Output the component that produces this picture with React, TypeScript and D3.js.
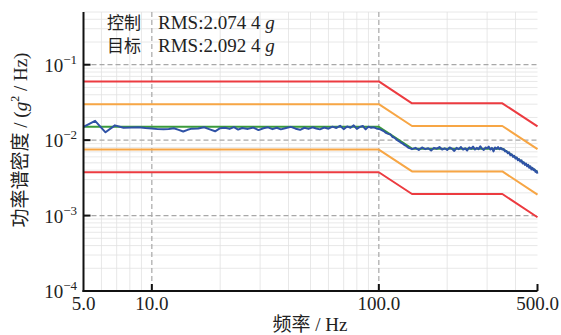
import React from "react";
import * as d3 from "d3";

// profile breakpoints (Hz) and levels (g^2/Hz)
const refFreq = [5, 100, 140, 350, 500];
const refPsd = [0.015, 0.015, 0.0077, 0.0077, 0.0038];
const alarmHi = [0.03, 0.03, 0.0154, 0.0154, 0.0076];
const alarmLo = [0.0075, 0.0075, 0.00385, 0.00385, 0.0019];
const abortHi = [0.06, 0.06, 0.0308, 0.0308, 0.0152];
const abortLo = [0.00375, 0.00375, 0.00193, 0.00193, 0.00095];

// measured control spectrum
const ctrlFreq = [
  5, 5.625, 6.25, 6.875, 7.5, 8.125, 8.75, 9.375, 10, 10.625, 11.25, 11.875, 12.5, 13.125, 13.75, 14.375, 15,
  16, 17, 18, 19, 20, 21, 22, 23, 24, 25, 26.5, 28, 29.5, 31, 32.5, 34, 35.5, 37, 39, 41, 43, 45, 47, 49, 51, 53,
  55, 57.5, 60, 62.5, 65, 67.5, 70, 72.5, 75, 77.5, 80, 82.5, 85, 87.5, 90, 92.5, 95, 97.5,
  100, 102.5, 105, 107.5, 110, 112.5, 115, 117.5, 120, 122.5, 125, 127.5, 130, 132.5, 135, 137.5, 140,
  145, 150, 155, 160, 165, 170, 175, 180, 185, 190, 195, 200, 205, 210, 215, 220, 225, 230, 235, 240, 245,
  250, 255, 260, 265, 270, 275, 280, 285, 290, 295, 300, 305, 310, 315, 320, 325, 330, 335, 340, 345, 350,
  355, 360, 365, 370, 375, 380, 385, 390, 395, 400, 405, 410, 415, 420, 425, 430, 435, 440, 445, 450, 455,
  460, 465, 470, 475, 480, 485, 490, 495, 500,
];
const ctrlPsd = [
  0.015, 0.018, 0.0127, 0.0157, 0.0146, 0.0147, 0.0148, 0.0145, 0.0143, 0.014, 0.0139, 0.0141, 0.0144, 0.0137,
  0.013, 0.0137, 0.0142,
  0.0143, 0.0148, 0.0139, 0.0131, 0.0144, 0.0146, 0.0141, 0.0149, 0.0138, 0.0145, 0.0141, 0.0147, 0.0136,
  0.0144, 0.0148, 0.014, 0.0146, 0.0139, 0.0145, 0.015, 0.0142, 0.0137, 0.0146, 0.0141, 0.0148, 0.0143,
  0.0139, 0.0147, 0.0142, 0.0151, 0.0145, 0.0155, 0.014, 0.0152, 0.0146, 0.0157, 0.0141, 0.015, 0.0154,
  0.0139, 0.0151, 0.0146, 0.0148, 0.0143,
  0.0141, 0.0137, 0.0132, 0.0125, 0.0121, 0.0119, 0.011, 0.0107, 0.0101, 0.0097, 0.0093, 0.009, 0.0086,
  0.0083, 0.0079, 0.0078, 0.0076,
  0.0079, 0.0074, 0.008, 0.0076, 0.0078, 0.0073, 0.0079, 0.0077, 0.0081, 0.0075, 0.0078, 0.0074, 0.008,
  0.0077, 0.0072, 0.0079, 0.0076, 0.0081, 0.0075, 0.0078, 0.0073, 0.008, 0.0077, 0.0082, 0.0075, 0.0079,
  0.0076, 0.0083, 0.0077, 0.0074, 0.008, 0.0078, 0.0082, 0.0075, 0.0079, 0.0071, 0.008, 0.0077, 0.0081,
  0.0076, 0.0079, 0.0075,
  0.0076, 0.0071, 0.0072, 0.0067, 0.0069, 0.0063, 0.0065, 0.006, 0.0062, 0.0057, 0.0059, 0.0054, 0.0056,
  0.0052, 0.0054, 0.0049, 0.0051, 0.0047, 0.0049, 0.0045, 0.0047, 0.0043, 0.0045, 0.0041, 0.0043, 0.004,
  0.0041, 0.0038, 0.0039, 0.0036,
];

const xTicks = [5, 10, 100, 500];
const xTickLabels = ["5.0", "10.0", "100.0", "500.0"];
const yTicks = [1e-4, 1e-3, 1e-2, 1e-1];
const yTickExp = ["\u22124", "\u22123", "\u22122", "\u22121"];
const legendRows = [
  { name: "控制", rms: "RMS:2.074 4 " },
  { name: "目标", rms: "RMS:2.092 4 " },
];

const W = 561;
const H = 335;
const left = 83.5;
const right = 537.5;
const top = 12;
const bottom = 291;

const serif = "'Liberation Serif', 'Times New Roman', serif";
const cjk = "'Noto Sans CJK SC', sans-serif";

export default function App() {
  const x = d3.scaleLog().domain([5, 500]).range([left, right]);
  const y = d3.scaleLog().domain([1e-4, 0.5]).range([bottom, top]);

  const line = d3
    .line<number>()
    .x((d, i) => x(refFreq[i]))
    .y((d) => y(d));
  const ctrlLine = d3
    .line<number>()
    .x((d, i) => x(ctrlFreq[i]))
    .y((d) => y(d));

  // minor grid values
  const xMinor: number[] = [];
  [1, 10, 100].forEach((dec) => {
    for (let k = 2; k <= 9; k++) {
      const v = k * dec;
      if (v > 5 && v < 500 && v !== 10 && v !== 100) xMinor.push(v);
    }
  });
  const yMinor: number[] = [];
  [1e-4, 1e-3, 1e-2, 1e-1].forEach((dec) => {
    for (let k = 2; k <= 9; k++) {
      const v = k * dec;
      if (v <= 0.5) yMinor.push(v);
    }
  });

  return (
    <svg width={W} height={H} style={{ position: "absolute", left: 0, top: 0, background: "#fff" }}>
      <defs>
        <clipPath id="plot">
          <rect x={left} y={top} width={right - left + 2} height={bottom - top} />
        </clipPath>
      </defs>

      {/* minor grid */}
      <g stroke="#e2e2e2" strokeWidth={0.8}>
        {xMinor.map((v) => (
          <line key={"xm" + v} x1={x(v)} x2={x(v)} y1={top} y2={bottom} />
        ))}
        {yMinor.map((v) => (
          <line key={"ym" + v} x1={left} x2={right} y1={y(v)} y2={y(v)} />
        ))}
      </g>
      {/* major grid */}
      <g stroke="#a8a8a8" strokeWidth={1.2} strokeDasharray="5,3">
        {[10, 100].map((v) => (
          <line key={"xg" + v} x1={x(v)} x2={x(v)} y1={top} y2={bottom} />
        ))}
        {[1e-3, 1e-2, 1e-1].map((v) => (
          <line key={"yg" + v} x1={left} x2={right} y1={y(v)} y2={y(v)} />
        ))}
      </g>

      <g clipPath="url(#plot)" fill="none" strokeLinejoin="round">
        <path d={line(abortHi) || ""} stroke="#ec3b40" strokeWidth={2} />
        <path d={line(abortLo) || ""} stroke="#ec3b40" strokeWidth={2} />
        <path d={line(alarmHi) || ""} stroke="#f7a645" strokeWidth={2} />
        <path d={line(alarmLo) || ""} stroke="#f7a645" strokeWidth={2} />
        <path d={line(refPsd) || ""} stroke="#3b9b3b" strokeWidth={2} />
        <path d={ctrlLine(ctrlPsd) || ""} stroke="#2f52a6" strokeWidth={2} />
      </g>

      {/* axes */}
      <g stroke="#111" strokeWidth={2}>
        <line x1={left} x2={left} y1={top} y2={bottom + 1} />
        <line x1={left - 1} x2={right} y1={bottom} y2={bottom} />
        {xTicks.slice(1).map((v) => (
          <line key={"xt" + v} x1={x(v)} x2={x(v)} y1={bottom} y2={bottom - 7} />
        ))}
        {yTicks.slice(1).map((v) => (
          <line key={"yt" + v} x1={left} x2={left + 7} y1={y(v)} y2={y(v)} />
        ))}
      </g>

      {/* tick labels */}
      <g fontFamily={serif} fontSize={19} fill="#222">
        {xTicks.map((v, i) => (
          <text key={"xl" + v} x={x(v)} y={310} textAnchor="middle">
            {xTickLabels[i]}
          </text>
        ))}
        {yTicks.map((v, i) => (
          <text key={"yl" + v} x={77} y={y(v) + 7} textAnchor="end">
            10
            <tspan fontSize={13} dy={-8}>
              {yTickExp[i]}
            </tspan>
          </text>
        ))}
      </g>

      {/* legend */}
      {legendRows.map((r, i) => (
        <g key={r.name}>
          <text x={107} y={29 + i * 23} fontFamily={cjk} fontSize={17} fill="#222">
            {r.name}
          </text>
          <text x={158} y={29 + i * 23} fontFamily={serif} fontSize={19} fill="#222">
            {r.rms}
            <tspan fontStyle="italic">g</tspan>
          </text>
        </g>
      ))}

      {/* axis titles */}
      <text x={310} y={331} textAnchor="middle" fontSize={19} fill="#222">
        <tspan fontFamily={cjk}>频率</tspan>
        <tspan fontFamily={serif}> / Hz</tspan>
      </text>
      <text
        transform={`translate(27, 140) rotate(-90)`}
        textAnchor="middle"
        fontSize={19}
        fill="#222"
      >
        <tspan fontFamily={cjk}>功率谱密度</tspan>
        <tspan fontFamily={serif}> / (</tspan>
        <tspan fontFamily={serif} fontStyle="italic">g</tspan>
        <tspan fontFamily={serif} fontSize={12} dy={-8}>2</tspan>
        <tspan fontFamily={serif} dy={8}> / Hz)</tspan>
      </text>
    </svg>
  );
}
